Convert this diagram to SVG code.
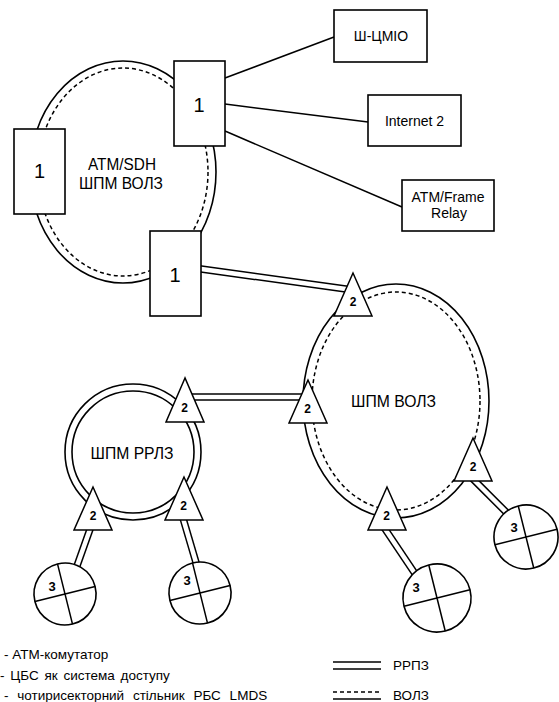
<svg xmlns="http://www.w3.org/2000/svg" width="559" height="702" viewBox="0 0 559 702">
<style>
text{font-family:"Liberation Sans",Arial,sans-serif;fill:#000}
.ln{fill:none;stroke:#000;stroke-width:1.5}
.ring{fill:none;stroke:#000;stroke-width:1.6}
.dash{fill:none;stroke:#000;stroke-width:1.5;stroke-dasharray:4 3}
.box{fill:#fff;stroke:#000;stroke-width:1.6}
.tri{fill:#fff;stroke:#000;stroke-width:1.5}
.cell{fill:#fff;stroke:#000;stroke-width:1.6}
.dblo{fill:none;stroke:#000;stroke-width:7.5}
.dbli{fill:none;stroke:#fff;stroke-width:4.5}
.big{font-size:17px}
.lbl{font-size:14px}
.one{font-size:20px}
.two{font-size:12px;font-weight:bold}
.three{font-size:13px;font-weight:bold}
.leg{font-size:13.5px}
</style>
<defs>
<path id="c1" d="M185,266.8 L353,290"/>
<path id="c2" d="M185,397 L308,397"/>
<path id="c3" d="M465,471 L527,533"/>
<path id="c4" d="M377,517 L430,596"/>
<path id="c5" d="M94,518 L67,594"/>
<path id="c6" d="M180,508 L205,593"/>
</defs>
<rect width="559" height="702" fill="#fff"/>

<g id="ring-atm-sdh">
<ellipse class="ring" cx="123" cy="172" rx="93" ry="111"/>
<ellipse class="dash" cx="123" cy="172" rx="85" ry="104"/>
<text class="big" x="122" y="170" text-anchor="middle" textLength="68" lengthAdjust="spacingAndGlyphs">ATM/SDH</text>
<text class="big" x="121" y="189" text-anchor="middle" textLength="84" lengthAdjust="spacingAndGlyphs">ШПМ ВОЛЗ</text>
</g>
<g id="ring-volz">
<ellipse class="ring" cx="396" cy="401" rx="93" ry="117"/>
<ellipse class="dash" cx="396" cy="401" rx="84" ry="109"/>
<text class="big" x="393.5" y="407" text-anchor="middle" textLength="85" lengthAdjust="spacingAndGlyphs">ШПМ ВОЛЗ</text>
</g>
<g id="ring-rrlz">
<circle class="ring" cx="133" cy="452" r="68"/>
<circle class="ring" cx="133" cy="452" r="61"/>
<text class="big" x="132" y="458.5" text-anchor="middle" textLength="83" lengthAdjust="spacingAndGlyphs">ШПМ РРЛЗ</text>
</g>

<g id="connectors">
<path class="ln" d="M225,78 L334,37"/>
<path class="ln" d="M225,104 L368,122"/>
<path class="ln" d="M225,131 L402,207"/>
<use href="#c1" class="dblo"/><use href="#c1" class="dbli"/>
<use href="#c2" class="dblo"/><use href="#c2" class="dbli"/>
<use href="#c3" class="dblo"/><use href="#c3" class="dbli"/>
<use href="#c4" class="dblo"/><use href="#c4" class="dbli"/>
<use href="#c5" class="dblo"/><use href="#c5" class="dbli"/>
<use href="#c6" class="dblo"/><use href="#c6" class="dbli"/>
</g>

<g id="sw-top"><rect class="box" x="174" y="61" width="51" height="85"/><text class="one" x="199" y="112" text-anchor="middle">1</text></g>
<g id="sw-left"><rect class="box" x="14" y="129" width="51" height="85"/><text class="one" x="39.5" y="178" text-anchor="middle">1</text></g>
<g id="sw-bottom"><rect class="box" x="150" y="231" width="51" height="85"/><text class="one" x="175" y="282" text-anchor="middle">1</text></g>

<g id="net-shcmio"><rect class="box" x="334" y="10" width="93" height="52"/><text class="lbl" x="381" y="40.5" text-anchor="middle">Ш-ЦМІО</text></g>
<g id="net-internet2"><rect class="box" x="368" y="95" width="93" height="51"/><text class="lbl" x="414.5" y="126" text-anchor="middle">Internet 2</text></g>
<g id="net-atmfr"><rect class="box" x="402" y="180" width="92" height="51"/><text class="lbl" x="448" y="201.5" text-anchor="middle">ATM/Frame</text><text class="lbl" x="449" y="217.5" text-anchor="middle">Relay</text></g>

<g id="bs-t1"><polygon class="tri" points="353,273 334,316 372,316"/><text class="two" x="353" y="305.5" text-anchor="middle">2</text></g>
<g id="bs-t2"><polygon class="tri" points="308,380 289,423 327,423"/><text class="two" x="307.5" y="412.5" text-anchor="middle">2</text></g>
<g id="bs-t3"><polygon class="tri" points="473,438 454,481 492,481"/><text class="two" x="473" y="470.5" text-anchor="middle">2</text></g>
<g id="bs-t4"><polygon class="tri" points="387,487 368,530 406,530"/><text class="two" x="386.5" y="519.5" text-anchor="middle">2</text></g>
<g id="bs-l1"><polygon class="tri" points="185,378 166,422 204,422"/><text class="two" x="184.5" y="412" text-anchor="middle">2</text></g>
<g id="bs-l2"><polygon class="tri" points="93,487 74,530 112,530"/><text class="two" x="93" y="519.5" text-anchor="middle">2</text></g>
<g id="bs-l3"><polygon class="tri" points="184,477 165,520 203,520"/><text class="two" x="183.5" y="509.5" text-anchor="middle">2</text></g>

<g id="cell-a"><g transform="translate(65,594) rotate(-14)"><circle class="cell" r="31"/><path class="ln" d="M0,-31 V31 M-31,0 H31"/></g><text class="three" x="52" y="591" text-anchor="middle">3</text></g>
<g id="cell-b"><g transform="translate(200,593) rotate(-14)"><circle class="cell" r="31"/><path class="ln" d="M0,-31 V31 M-31,0 H31"/></g><text class="three" x="187" y="584.5" text-anchor="middle">3</text></g>
<g id="cell-c"><g transform="translate(437,598) rotate(-14)"><circle class="cell" r="34"/><path class="ln" d="M0,-34 V34 M-34,0 H34"/></g><text class="three" x="416" y="591.5" text-anchor="middle">3</text></g>
<g id="cell-d"><g transform="translate(526,537) rotate(-14)"><circle class="cell" r="32"/><path class="ln" d="M0,-32 V32 M-32,0 H32"/></g><text class="three" x="514" y="531.5" text-anchor="middle">3</text></g>

<g id="legend">
<text class="leg" x="4" y="659">- АТМ-комутатор</text>
<text class="leg" x="0" y="680" word-spacing="2">- ЦБС як система доступу</text>
<text class="leg" x="4" y="700" word-spacing="5">- чотирисекторний стільник РБС LMDS</text>
<path class="ln" d="M333,662 H381 M333,669 H381"/>
<text class="leg" x="393" y="670">РРПЗ</text>
<path class="dash" d="M333,692 H381"/>
<path class="ln" d="M333,699 H381"/>
<text class="leg" x="393" y="700">ВОЛЗ</text>
</g>
</svg>
